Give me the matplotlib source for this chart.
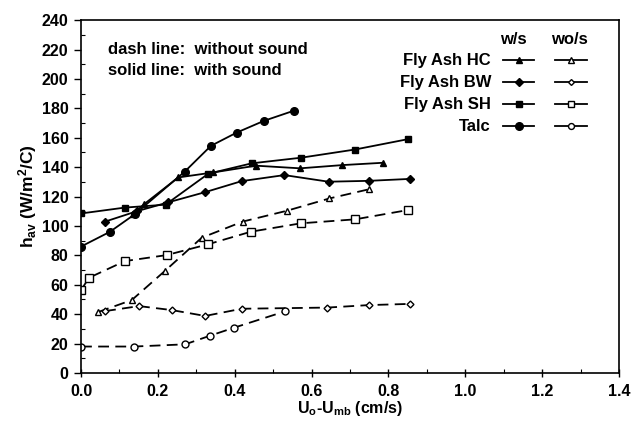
import matplotlib
matplotlib.use("Agg")
import matplotlib.pyplot as plt
from matplotlib.lines import Line2D
from matplotlib.ticker import MultipleLocator

plt.rcParams['font.family'] = ['Liberation Sans', 'DejaVu Sans']
plt.rcParams['font.weight'] = 'bold'
plt.rcParams['mathtext.fontset'] = 'custom'
plt.rcParams['mathtext.rm'] = 'Liberation Sans:bold'
plt.rcParams['mathtext.it'] = 'Liberation Sans:bold'
plt.rcParams['mathtext.bf'] = 'Liberation Sans:bold'

# ---- data (with sound: solid, filled markers) ----
hc_ws_x = [0.135, 0.165, 0.253, 0.344, 0.455, 0.57, 0.68, 0.787]
hc_ws_y = [108, 115, 133, 136.4, 141, 139.2, 141.4, 143]
bw_ws_x = [0.063, 0.145, 0.226, 0.323, 0.418, 0.529, 0.644, 0.75, 0.855]
bw_ws_y = [103, 110, 116, 123, 130.5, 134.6, 130.1, 130.7, 132]
sh_ws_x = [0.0, 0.114, 0.22, 0.331, 0.444, 0.572, 0.713, 0.85]
sh_ws_y = [108.5, 112.5, 114.5, 135.5, 142.6, 146.4, 152, 159]
talc_ws_x = [0.0, 0.075, 0.14, 0.27, 0.338, 0.405, 0.476, 0.555]
talc_ws_y = [86, 96, 108, 137, 154.5, 163.5, 171.5, 178.5]

# ---- data (without sound: dashed, open markers) ----
hc_wos_x = [0.045, 0.132, 0.219, 0.314, 0.421, 0.535, 0.646, 0.75]
hc_wos_y = [41.5, 49.6, 69.6, 92, 103, 110.3, 118.7, 125]
bw_wos_x = [0.0625, 0.151, 0.236, 0.323, 0.418, 0.641, 0.75, 0.856]
bw_wos_y = [42.1, 45.5, 42.8, 38.8, 43.7, 44.5, 46.2, 47]
sh_wos_x = [0.0, 0.021, 0.114, 0.223, 0.33, 0.442, 0.572, 0.713, 0.85]
sh_wos_y = [56.4, 64.8, 76.1, 80.2, 87.5, 96.1, 101.8, 104.5, 110.8]
talc_wos_x = [0.0, 0.138, 0.271, 0.336, 0.398, 0.532]
talc_wos_y = [18, 18, 19.5, 25.4, 30.8, 42]

series_names = ["Fly Ash HC", "Fly Ash BW", "Fly Ash SH", "Talc"]
markers = ["^", "D", "s", "o"]
msize_ws = [5, 4, 5, 5.5]
msize_wos = [4.5, 3.5, 5.5, 5]

fig = plt.figure(figsize=(6.33, 4.28), dpi=100)
ax = fig.add_axes([0.128, 0.1285, 0.85, 0.8245])

lw = 1.3
dash = (0, (6, 3.5))
ws = [(hc_ws_x, hc_ws_y), (bw_ws_x, bw_ws_y), (sh_ws_x, sh_ws_y), (talc_ws_x, talc_ws_y)]
wos = [(hc_wos_x, hc_wos_y), (bw_wos_x, bw_wos_y), (sh_wos_x, sh_wos_y), (talc_wos_x, talc_wos_y)]
for (x, y), m, ms in zip(ws, markers, msize_ws):
    ax.plot(x, y, color='black', lw=lw, marker=m, ms=ms, mfc='black', mec='black')
for (x, y), m, ms in zip(wos, markers, msize_wos):
    ax.plot(x, y, color='black', lw=lw, ls=dash, marker=m, ms=ms, mfc='white', mec='black', mew=1.0)

ax.set_xlim(0, 1.4)
ax.set_ylim(0, 240)
ax.xaxis.set_minor_locator(MultipleLocator(0.1))
ax.yaxis.set_major_locator(MultipleLocator(20))
ax.yaxis.set_minor_locator(MultipleLocator(10))
ax.set_xticks([0, 0.2, 0.4, 0.6, 0.8, 1.0, 1.2, 1.4])
ax.set_xticklabels(["0.0", "0.2", "0.4", "0.6", "0.8", "1.0", "1.2", "1.4"])
ax.tick_params(axis='x', which='major', direction='inout', length=6, width=1, labelsize=11.5, pad=5)
ax.tick_params(axis='y', which='major', direction='out', length=5, width=1, labelsize=11.5, pad=4)
ax.tick_params(which='minor', direction='in', length=3, width=0.8)
for sp in ax.spines.values():
    sp.set_linewidth(1.2)

ax.set_xlabel(r"U$_{\mathrm{o}}$-U$_{\mathrm{mb}}$ (cm/s)", fontsize=11.5, fontweight='bold', labelpad=0)
ax.set_ylabel(r"h$_{\mathrm{av}}$ (W/m$^{\mathrm{2}}$/C)", fontsize=12.5, fontweight='bold', labelpad=2)


def fx(px):
    return (px - 81) / 538.0


def fy(py):
    return (373 - py) / 353.0


ax.text(fx(108), fy(49), "dash line:  without sound", transform=ax.transAxes, fontsize=12, fontweight='bold', va='center')
ax.text(fx(108), fy(70), "solid line:  with sound", transform=ax.transAxes, fontsize=12, fontweight='bold', va='center')

# custom legend
ax.text(fx(513), fy(39), "w/s", transform=ax.transAxes, fontsize=12, fontweight='bold', ha='center', va='center')
ax.text(fx(569), fy(39), "wo/s", transform=ax.transAxes, fontsize=12, fontweight='bold', ha='center', va='center')
rows_y = [60, 82, 104, 126]
for name, m, ms1, ms2, ry in zip(series_names, markers, msize_ws, msize_wos, rows_y):
    ax.text(fx(491), fy(ry), name, transform=ax.transAxes, fontsize=12, fontweight='bold', ha='right', va='center')
    ax.add_line(Line2D([fx(503), fx(534)], [fy(ry), fy(ry)], transform=ax.transAxes, color='black', lw=lw,
                       clip_on=False))
    ax.add_line(Line2D([fx(518.5)], [fy(ry)], transform=ax.transAxes, marker=m, ms=ms1, mfc='black', mec='black',
                       ls='none', clip_on=False))
    ax.add_line(Line2D([fx(555), fx(587)], [fy(ry), fy(ry)], transform=ax.transAxes, color='black', lw=lw,
                       clip_on=False))
    ax.add_line(Line2D([fx(571)], [fy(ry)], transform=ax.transAxes, marker=m, ms=ms2 * 0.85, mfc='white', mec='black',
                       mew=1.0, ls='none', clip_on=False))

fig.savefig("out.png", dpi=100)
